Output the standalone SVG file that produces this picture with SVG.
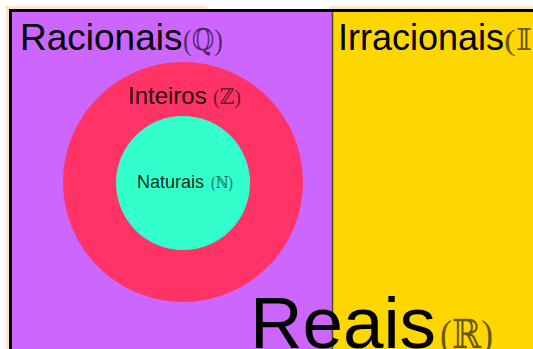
<svg xmlns="http://www.w3.org/2000/svg" width="533" height="349" viewBox="0 0 533 349">
<style>
.lbl{font-family:"Liberation Sans",Arial,sans-serif;fill:#000}
.sym{font-family:"Liberation Serif","DejaVu Serif",serif;fill:#000;fill-opacity:0.6}
</style>
<rect x="0" y="0" width="533" height="349" fill="#ffffff"/>
<rect x="5" y="6" width="202" height="4" fill="#fbe6c8"/>
<rect x="329" y="6" width="204" height="4" fill="#fbe6c8"/>
<rect x="6" y="6" width="3" height="343" fill="#fbe6c8"/>
<g id="racionais">
<rect x="12" y="12" width="320" height="337" fill="#cc66ff"/>
<text class="lbl" x="20" y="50" font-size="37">Racionais</text>
<text class="sym" x="183" y="50" font-size="30" textLength="40" lengthAdjust="spacingAndGlyphs">(ℚ)</text>
</g>
<g id="irracionais">
<rect x="332" y="12" width="201" height="337" fill="#ffd700"/>
<line x1="332.5" y1="12" x2="332.5" y2="349" stroke="#4d4a22" stroke-width="1.5"/>
<text class="lbl" x="338" y="50" font-size="36">Irracionais</text>
<text class="sym" x="504" y="50" font-size="30" textLength="40" lengthAdjust="spacingAndGlyphs">(𝕀)</text>
</g>
<g id="inteiros">
<circle cx="183" cy="182" r="120" fill="#ff3366"/>
<text class="lbl" x="128" y="104" font-size="24" fill-opacity="0.9">Inteiros</text>
<text class="sym" x="213" y="104" font-size="22" textLength="28" lengthAdjust="spacingAndGlyphs">(ℤ)</text>
</g>
<g id="naturais">
<circle cx="183" cy="183" r="67" fill="#33ffcc"/>
<text class="lbl" x="137" y="188" font-size="18" fill-opacity="0.85">Naturais</text>
<text class="sym" x="211" y="188" font-size="16" textLength="22" lengthAdjust="spacingAndGlyphs">(ℕ)</text>
</g>
<rect x="10.5" y="10.5" width="530" height="345" fill="none" stroke="#000" stroke-width="3"/>
<g id="reais">
<text class="lbl" x="250" y="348" font-size="72" textLength="186" lengthAdjust="spacingAndGlyphs">Reais</text>
<text class="sym" x="440" y="348" font-size="40" textLength="53" lengthAdjust="spacingAndGlyphs">(ℝ)</text>
</g>
</svg>
